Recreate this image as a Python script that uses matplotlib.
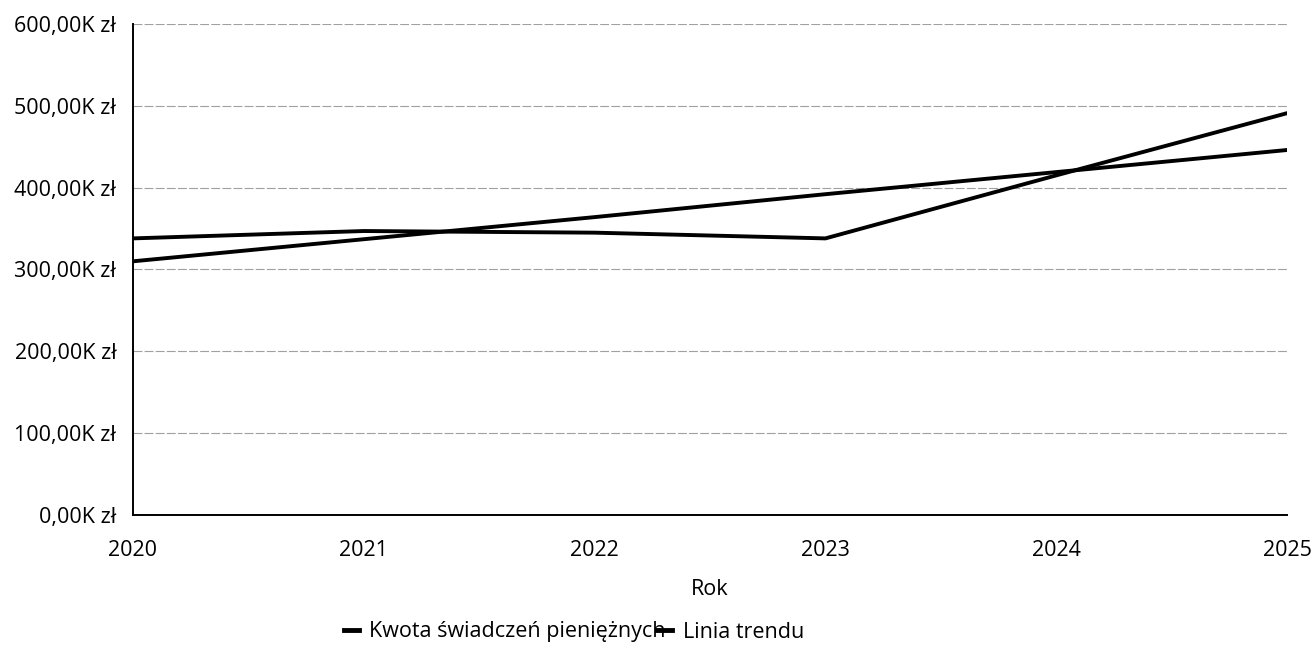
import matplotlib.pyplot as plt
from matplotlib.ticker import FuncFormatter

plt.rcParams['font.family'] = ['Open Sans', 'DejaVu Sans']

# values (thousands of zł)
years = [2020, 2021, 2022, 2023, 2024, 2025]
kwota = [338, 347, 345, 338, 415, 491]
trend = [310, 337, 364, 392, 419, 446]

y_ticks = [0, 100, 200, 300, 400, 500, 600]

fig = plt.figure(figsize=(13.14, 6.53), dpi=100)
ax = fig.add_axes([0.1012, 0.2113, 0.8783, 0.752])

ax.plot(years, kwota, color='black', lw=2.8, label='Kwota świadczeń pieniężnych',
        solid_joinstyle='round')
ax.plot(years, trend, color='black', lw=2.8, label='Linia trendu')

ax.set_xlim(2020, 2025)
ax.set_ylim(0, 600)
ax.set_yticks(y_ticks)
ax.set_xticks(years)
ax.yaxis.set_major_formatter(FuncFormatter(lambda v, p: f'{v:.2f}'.replace('.', ',') + 'K zł'))

ax.grid(axis='y', color='#a0a0a0', lw=0.8, linestyle=(0, (8, 2)))
ax.set_axisbelow(True)
for s in ['top', 'right']:
    ax.spines[s].set_visible(False)
ax.spines['left'].set_linewidth(1.4)
ax.spines['bottom'].set_linewidth(1.4)
ax.tick_params(axis='both', length=0, labelsize=15.5, colors='black')
ax.tick_params(axis='y', pad=12)
ax.tick_params(axis='x', pad=18)

ax.set_xlabel('Rok', fontsize=15.5, labelpad=13)

fig.legend(loc='center', bbox_to_anchor=(574 / 1314, 1 - 632 / 653), ncol=2,
           frameon=False, fontsize=15.5, handlelength=0.7, handletextpad=0.5,
           columnspacing=-0.4)
for h in fig.legends[0].legend_handles:
    h.set_linewidth(3.5)

fig.savefig('out.png', dpi=100)
